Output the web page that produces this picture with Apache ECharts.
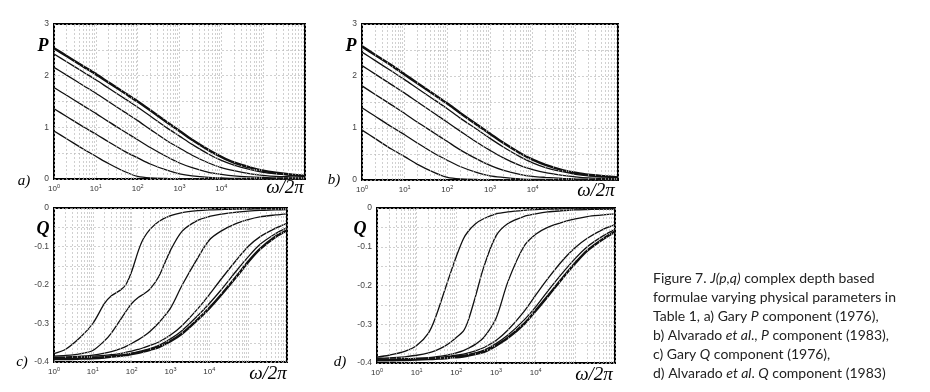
<!DOCTYPE html>
<html>
<head>
<meta charset="utf-8">
<script src="https://cdn.jsdelivr.net/npm/echarts@6/dist/echarts.min.js"></script>
<style>html,body{margin:0;padding:0;background:#fff}#main{width:930px;height:392px}</style>
</head>
<body>
<div id="main"></div>
<script>
const chart = echarts.init(document.getElementById('main'));

// omega/2pi sample points
const freqP = [1, 2, 5, 10, 20, 50, 100, 200, 500, 1e3, 2e3, 5e3, 1e4, 2e4, 5e4, 1e5, 2e5, 5e5, 1e6];
const freqQ = [1, 2, 5, 10, 20, 30, 50, 70, 100, 150, 200, 300, 500, 1e3, 2e3, 5e3, 1e4, 2e4, 5e4, 1e5, 2e5, 5e5, 1e6];

// a) Gary P component
const garyP1 = [2.53, 2.38, 2.18, 2.03, 1.87, 1.66, 1.5, 1.33, 1.1, 0.93, 0.76, 0.56, 0.43, 0.32, 0.22, 0.16, 0.12, 0.08, 0.06];
const garyP2 = [2.42, 2.27, 2.07, 1.92, 1.76, 1.55, 1.39, 1.22, 0.99, 0.83, 0.67, 0.48, 0.36, 0.27, 0.18, 0.13, 0.1, 0.07, 0.05];
const garyP3 = [2.16, 2.01, 1.81, 1.66, 1.5, 1.29, 1.13, 0.96, 0.74, 0.6, 0.46, 0.31, 0.22, 0.16, 0.1, 0.07, 0.05, 0.04, 0.03];
const garyP4 = [1.77, 1.62, 1.42, 1.27, 1.11, 0.91, 0.76, 0.61, 0.43, 0.31, 0.22, 0.13, 0.09, 0.06, 0.04, 0.03, 0.02, 0.02, 0.01];
const garyP5 = [1.36, 1.21, 1.01, 0.87, 0.72, 0.53, 0.41, 0.29, 0.17, 0.1, 0.06, 0.03, 0.02, 0.01, 0.01, 0.01, 0.005, 0.005, 0.005];
const garyP6 = [0.93, 0.78, 0.58, 0.44, 0.3, 0.14, 0.05, 0.02, 0.01, 0.005, 0, 0, 0, 0, 0, 0, 0, 0, 0];

// b) Alvarado et al. P component
const alvP1 = [2.57, 2.41, 2.2, 2.03, 1.86, 1.64, 1.47, 1.29, 1.06, 0.89, 0.72, 0.52, 0.39, 0.29, 0.19, 0.14, 0.1, 0.07, 0.05];
const alvP2 = [2.46, 2.3, 2.09, 1.93, 1.76, 1.54, 1.37, 1.19, 0.97, 0.8, 0.64, 0.45, 0.33, 0.24, 0.16, 0.11, 0.08, 0.06, 0.04];
const alvP3 = [2.2, 2.04, 1.83, 1.67, 1.5, 1.28, 1.11, 0.94, 0.72, 0.57, 0.43, 0.28, 0.2, 0.14, 0.09, 0.06, 0.04, 0.03, 0.02];
const alvP4 = [1.81, 1.65, 1.44, 1.28, 1.11, 0.9, 0.74, 0.58, 0.4, 0.28, 0.19, 0.11, 0.07, 0.05, 0.03, 0.02, 0.015, 0.01, 0.01];
const alvP5 = [1.39, 1.23, 1.02, 0.87, 0.71, 0.51, 0.38, 0.26, 0.14, 0.08, 0.05, 0.02, 0.01, 0.01, 0.005, 0.005, 0.005, 0.005, 0.005];
const alvP6 = [0.96, 0.8, 0.59, 0.45, 0.3, 0.14, 0.05, 0.02, 0.01, 0.005, 0, 0, 0, 0, 0, 0, 0, 0, 0];

// c) Gary Q component
const garyQ1 = [-0.378, -0.367, -0.334, -0.3, -0.248, -0.228, -0.214, -0.2, -0.165, -0.11, -0.08, -0.055, -0.035, -0.02, -0.012, -0.007, -0.005, -0.004, -0.003, -0.003, -0.002, -0.002, -0.002];
const garyQ2 = [-0.385, -0.383, -0.378, -0.37, -0.345, -0.325, -0.292, -0.27, -0.248, -0.232, -0.224, -0.21, -0.178, -0.11, -0.06, -0.032, -0.022, -0.016, -0.011, -0.008, -0.006, -0.005, -0.004];
const garyQ3 = [-0.388, -0.387, -0.385, -0.382, -0.377, -0.373, -0.366, -0.36, -0.352, -0.342, -0.334, -0.32, -0.298, -0.26, -0.2, -0.13, -0.083, -0.06, -0.04, -0.03, -0.023, -0.018, -0.015];
const garyQ4 = [-0.388, -0.388, -0.387, -0.385, -0.383, -0.381, -0.378, -0.375, -0.372, -0.367, -0.363, -0.357, -0.348, -0.33, -0.305, -0.262, -0.225, -0.185, -0.135, -0.1, -0.075, -0.053, -0.04];
const garyQ5 = [-0.39, -0.39, -0.389, -0.388, -0.386, -0.384, -0.382, -0.38, -0.377, -0.373, -0.37, -0.365, -0.357, -0.34, -0.318, -0.28, -0.248, -0.213, -0.163, -0.127, -0.095, -0.067, -0.051];
const garyQ6 = [-0.392, -0.392, -0.391, -0.39, -0.388, -0.386, -0.384, -0.382, -0.379, -0.376, -0.373, -0.368, -0.361, -0.346, -0.326, -0.29, -0.26, -0.226, -0.178, -0.14, -0.107, -0.075, -0.058];

// d) Alvarado et al. Q component
const alvQ1 = [-0.385, -0.38, -0.37, -0.355, -0.322, -0.282, -0.215, -0.17, -0.125, -0.08, -0.06, -0.041, -0.027, -0.015, -0.01, -0.006, -0.004, -0.003, -0.002, -0.002, -0.002, -0.002, -0.002];
const alvQ2 = [-0.388, -0.387, -0.384, -0.38, -0.374, -0.368, -0.357, -0.347, -0.334, -0.318, -0.29, -0.23, -0.15, -0.072, -0.04, -0.022, -0.015, -0.01, -0.007, -0.005, -0.004, -0.003, -0.003];
const alvQ3 = [-0.39, -0.39, -0.389, -0.388, -0.386, -0.384, -0.381, -0.378, -0.374, -0.368, -0.362, -0.352, -0.333, -0.285, -0.19, -0.1, -0.068, -0.05, -0.036, -0.028, -0.022, -0.018, -0.015];
const alvQ4 = [-0.39, -0.39, -0.389, -0.388, -0.387, -0.386, -0.384, -0.382, -0.38, -0.377, -0.374, -0.369, -0.36, -0.342, -0.315, -0.268, -0.225, -0.183, -0.133, -0.102, -0.078, -0.055, -0.043];
const alvQ5 = [-0.391, -0.391, -0.39, -0.389, -0.388, -0.387, -0.386, -0.384, -0.382, -0.38, -0.378, -0.374, -0.367, -0.35, -0.328, -0.29, -0.255, -0.215, -0.165, -0.13, -0.1, -0.072, -0.055];
const alvQ6 = [-0.393, -0.393, -0.392, -0.391, -0.39, -0.389, -0.388, -0.386, -0.385, -0.383, -0.381, -0.377, -0.371, -0.355, -0.335, -0.3, -0.265, -0.228, -0.178, -0.142, -0.11, -0.08, -0.061];

const captionLines = [
    'Figure 7. {i|J(p,q)} complex depth based',
    'formulae varying physical parameters in',
    'Table 1, a) Gary {i|P} component (1976),',
    'b) Alvarado {i|et al}., {i|P} component (1983),',
    'c) Gary {i|Q} component (1976),',
    'd) Alvarado {i|et al}. {i|Q} component (1983)'
];

const panels = [
    { box: { left: 54, top: 24, width: 251, height: 155 }, kind: 'P', freq: freqP,
      curves: [garyP1, garyP2, garyP3, garyP4, garyP5, garyP6], thick: 0,
      name: 'P', nameAt: [43, 46], tag: 'a)', tagAt: [24, 181], omegaAt: [285, 188] },
    { box: { left: 362, top: 24, width: 256, height: 156 }, kind: 'P', freq: freqP,
      curves: [alvP1, alvP2, alvP3, alvP4, alvP5, alvP6], thick: 0,
      name: 'P', nameAt: [351, 46], tag: 'b)', tagAt: [334, 180], omegaAt: [596, 191] },
    { box: { left: 54, top: 208, width: 233, height: 154 }, kind: 'Q', freq: freqQ,
      curves: [garyQ1, garyQ2, garyQ3, garyQ4, garyQ5, garyQ6], thick: 5,
      name: 'Q', nameAt: [43, 229], tag: 'c)', tagAt: [22, 362], omegaAt: [268, 374] },
    { box: { left: 377, top: 208, width: 238, height: 155 }, kind: 'Q', freq: freqQ,
      curves: [alvQ1, alvQ2, alvQ3, alvQ4, alvQ5, alvQ6], thick: 5,
      name: 'Q', nameAt: [360, 229], tag: 'd)', tagAt: [340, 362], omegaAt: [594, 375] }
];

// log minor grid lines 2..9 per decade
const minorVals = [];
for (let k = 0; k < 6; k++) {
    for (let m = 2; m <= 9; m++) minorVals.push(m * Math.pow(10, k));
}

const gridStyle = { color: '#bcbcbc', type: [2, 2], width: 0.7 };
const serif = 'Liberation Serif';

var grids = [], xAxes = [], yAxes = [], series = [], graphics = [];

panels.forEach((p, i) => {
    grids.push(Object.assign({
        show: true,
        borderColor: '#000',
        borderWidth: 2,
        backgroundColor: 'transparent'
    }, p.box));

    xAxes.push({
        type: 'log',
        logBase: 10,
        gridIndex: i,
        min: 1,
        max: 1e6,
        axisLine: { show: false },
        axisTick: { show: false },
        splitLine: { show: true, lineStyle: gridStyle },
        axisLabel: {
            margin: 4,
            formatter: function (v) {
                const e = Math.round(Math.log10(v));
                return e >= 5 ? '' : '{b|10}{s|' + e + '}';
            },
            rich: {
                b: { fontSize: 8, color: '#333', fontFamily: 'Liberation Sans' },
                s: { fontSize: 5.5, color: '#333', fontFamily: 'Liberation Sans', padding: [0, 0, 5, 0] }
            }
        }
    });

    if (p.kind === 'P') {
        yAxes.push({
            type: 'value', gridIndex: i, min: 0, max: 3, interval: 0.5,
            axisLine: { show: false }, axisTick: { show: false },
            splitLine: { show: true, lineStyle: gridStyle },
            axisLabel: {
                margin: 5, fontSize: 8.5, color: '#444', fontFamily: 'Liberation Sans',
                formatter: v => (Math.abs(v - Math.round(v)) < 1e-6 ? String(Math.round(v)) : '')
            }
        });
    } else {
        yAxes.push({
            type: 'value', gridIndex: i, min: -0.4, max: 0, interval: 0.05,
            axisLine: { show: false }, axisTick: { show: false },
            splitLine: { show: true, lineStyle: gridStyle },
            axisLabel: {
                margin: 5, fontSize: 8.5, color: '#444', fontFamily: 'Liberation Sans',
                formatter: function (v) {
                    const t = Math.round(v * 100);
                    if (t % 10 !== 0) return '';
                    return t === 0 ? '0' : (t / 100).toFixed(1);
                }
            }
        });
    }

    p.curves.forEach((vals, j) => {
        const s = {
            type: 'line',
            xAxisIndex: i,
            yAxisIndex: i,
            data: vals.map((v, k) => [p.freq[k], v]),
            showSymbol: false,
            smooth: 0.3,
            silent: true,
            lineStyle: { color: '#111', width: j === p.thick ? 2.5 : 1.3 },
            z: 3
        };
        if (j === 0) {
            s.markLine = {
                silent: true,
                symbol: 'none',
                label: { show: false },
                lineStyle: gridStyle,
                emphasis: { disabled: true },
                data: minorVals.map(v => ({ xAxis: v }))
            };
        }
        series.push(s);
    });

    graphics.push({
        type: 'text', x: p.nameAt[0], y: p.nameAt[1],
        style: { text: p.name, align: 'center', verticalAlign: 'middle', fill: '#000',
            fontFamily: serif, fontSize: 18, fontWeight: 'bold', fontStyle: 'italic' }
    }, {
        type: 'text', x: p.tagAt[0], y: p.tagAt[1],
        style: { text: p.tag, align: 'center', verticalAlign: 'middle', fill: '#000',
            fontFamily: serif, fontSize: 15, fontStyle: 'italic' }
    }, {
        type: 'text', x: p.omegaAt[0], y: p.omegaAt[1],
        style: { text: 'ω/2π', align: 'center', verticalAlign: 'middle', fill: '#000',
            fontFamily: serif, fontSize: 19, fontStyle: 'italic' }
    });
});

graphics.push({
    type: 'text', x: 653, y: 269,
    style: {
        text: captionLines.join('\n'),
        fill: '#222', fontFamily: 'Lato', fontSize: 14, lineHeight: 19,
        rich: {
            i: { fontStyle: 'italic', fontFamily: 'Lato', fontSize: 14, lineHeight: 19, fill: '#222' }
        }
    }
});

chart.setOption({
    animation: false,
    grid: grids,
    xAxis: xAxes,
    yAxis: yAxes,
    series: series,
    graphic: graphics
});
</script>
</body>
</html>
